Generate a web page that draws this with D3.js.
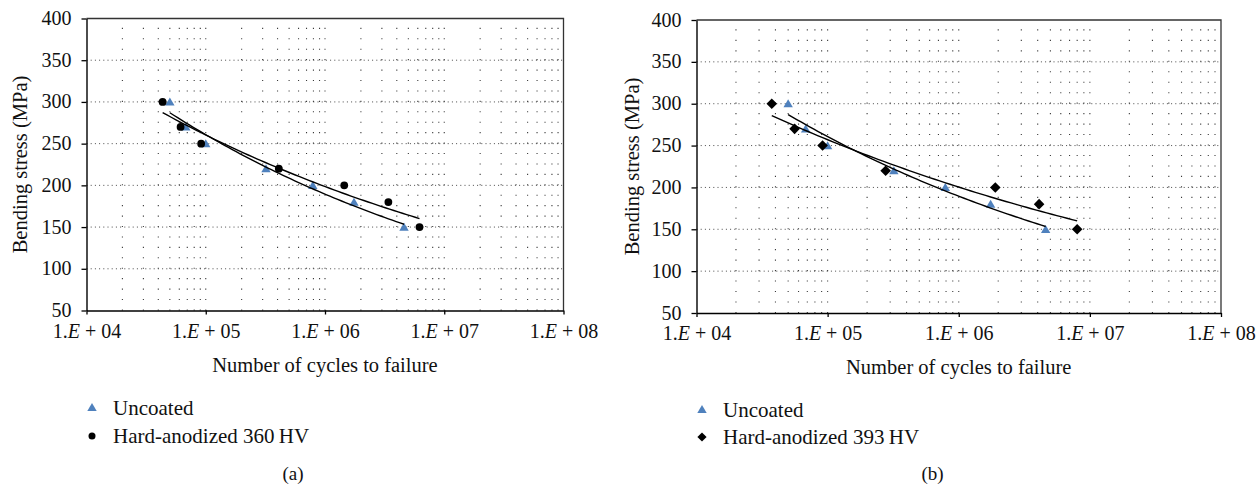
<!DOCTYPE html>
<html>
<head>
<meta charset="utf-8">
<script src="https://cdn.jsdelivr.net/npm/d3@7"></script>
<style>
  html, body { margin: 0; padding: 0; background: #fff; }
  svg { display: block; }
  svg text { font-family: "Liberation Serif", "Times New Roman", serif; }
</style>
</head>
<body>
<svg id="chart" width="1260" height="487"></svg>
<script>
// ---- data ----
const cycleTicks = [1e4, 1e5, 1e6, 1e7, 1e8];
const stressTicks = [50, 100, 150, 200, 250, 300, 350, 400];
const stressLevels = [300, 270, 250, 220, 200, 180, 150];           // MPa
const uncoatedCycles = [5.0e4, 6.8e4, 1.0e5, 3.2e5, 7.9e5, 1.75e6, 4.6e6];
const hv360Cycles = [4.35e4, 6.15e4, 9.15e4, 4.1e5, 1.45e6, 3.4e6, 6.2e6];
const hv393Cycles = [3.75e4, 5.6e4, 9.15e4, 2.77e5, 1.9e6, 4.1e6, 8.0e6];
const seriesNames = ["Uncoated", "Hard-anodized 360\u2009HV", "Hard-anodized 393\u2009HV"];
const panelLetters = ["(a)", "(b)"];
const xTitle = "Number of cycles to failure";
const yTitle = "Bending stress (MPa)";

// ---- drawing ----
const svg = d3.select("#chart");
const FS = 20;
const SERIF = '"Liberation Serif", "Times New Roman", serif';
const BLUE = "#4F81BD";

function markerPath(kind, s) {
  if (kind === "triangle") {
    const h = s * 0.85;
    return `M0,${-h * 0.55}L${s / 2},${h * 0.45}L${-s / 2},${h * 0.45}Z`;
  }
  if (kind === "diamond") {
    return `M0,${-s}L${s},0L0,${s}L${-s},0Z`;
  }
  return null;
}

function addMarker(g, kind, cx, cy, size, color) {
  if (kind === "circle") {
    g.append("circle").attr("cx", cx).attr("cy", cy).attr("r", size).attr("fill", color);
  } else {
    g.append("path").attr("d", markerPath(kind, size))
      .attr("transform", `translate(${cx},${cy})`).attr("fill", color);
  }
}

// least-squares power law  S = a * N^b
function powerFit(ns, ss) {
  const lx = ns.map(Math.log10), ly = ss.map(Math.log10);
  const mx = d3.mean(lx), my = d3.mean(ly);
  const b = d3.sum(lx, (v, i) => (v - mx) * (ly[i] - my)) / d3.sum(lx, v => (v - mx) ** 2);
  const a = my - b * mx;
  return n => Math.pow(10, a + b * Math.log10(n));
}

function drawPanel(cfg) {
  const g = svg.append("g");
  const x = d3.scaleLog().domain([cycleTicks[0], cycleTicks[cycleTicks.length - 1]])
    .range([cfg.left, cfg.right]);
  const y = d3.scaleLinear().domain([stressTicks[0], stressTicks[stressTicks.length - 1]])
    .range([cfg.bottom, cfg.top]);

  // minor vertical grid (2..10 within each decade)
  const minor = [];
  cycleTicks.slice(0, -1).forEach(d => { for (let m = 2; m <= 10; m++) minor.push(m * d); });
  const vGrid = minor.filter(v => v < cycleTicks[cycleTicks.length - 1]);
  const period = y(stressTicks[0]) - y(stressTicks[0] + 12.5);
  g.append("g").selectAll("line").data(vGrid).join("line")
    .attr("x1", d => x(d)).attr("x2", d => x(d))
    .attr("y1", y(stressTicks[0])).attr("y2", y(stressTicks[stressTicks.length - 1]))
    .attr("stroke", "#3a3a3a").attr("stroke-width", 1.1)
    .attr("stroke-dasharray", `1.1 ${period - 1.1}`);

  // horizontal grid at major stress ticks
  g.append("g").selectAll("line")
    .data(stressTicks.slice(1, -1)).join("line")
    .attr("x1", cfg.left).attr("x2", cfg.right)
    .attr("y1", d => y(d)).attr("y2", d => y(d))
    .attr("stroke", "#4a4a4a").attr("stroke-width", 1)
    .attr("stroke-dasharray", "1 3.2");

  // plot frame (top and right)
  g.append("path")
    .attr("d", `M${cfg.left},${cfg.top}H${cfg.right}V${cfg.bottom}`)
    .attr("fill", "none").attr("stroke", "#333").attr("stroke-width", 1.3);

  // markers
  cfg.series.forEach(s => {
    s.cycles.forEach((n, i) => addMarker(g, s.kind, x(n), y(stressLevels[i]), s.size, s.color));
  });

  // power-law trendlines over each series' range
  cfg.series.forEach(s => {
    const f = powerFit(s.cycles, stressLevels);
    const lo = Math.log10(d3.min(s.cycles)), hi = Math.log10(d3.max(s.cycles));
    const pts = d3.range(0, 61).map(k => Math.pow(10, lo + (hi - lo) * k / 60));
    g.append("path")
      .attr("d", d3.line().x(n => x(n)).y(n => y(f(n)))(pts))
      .attr("fill", "none").attr("stroke", "#000").attr("stroke-width", 1.4);
  });

  // y axis
  const ya = g.append("g").attr("transform", `translate(${cfg.left},0)`)
    .call(d3.axisLeft(y).tickValues(stressTicks).tickSize(5).tickSizeOuter(0).tickPadding(10));
  ya.attr("font-family", SERIF).attr("font-size", FS);
  ya.select(".domain").attr("stroke", "#000").attr("stroke-width", 1.4);
  ya.selectAll(".tick line").attr("stroke", "#000").attr("stroke-width", 1.3);
  ya.selectAll(".tick text").attr("fill", "#111").attr("dy", "0.3em")
    .style("font-family", SERIF).style("font-size", FS + "px");

  // x axis
  const xa = g.append("g").attr("transform", `translate(0,${cfg.bottom})`)
    .call(d3.axisBottom(x).tickValues(cycleTicks).tickSize(4).tickSizeOuter(0).tickPadding(9));
  xa.attr("font-family", SERIF).attr("font-size", FS);
  xa.select(".domain").attr("stroke", "#000").attr("stroke-width", 1.4);
  xa.selectAll(".tick line").attr("stroke", "#000").attr("stroke-width", 1.3);
  xa.selectAll(".tick text").attr("fill", "#111")
    .style("font-family", SERIF).style("font-size", FS + "px")
    .each(function (d) {
      const t = d3.select(this).text("");
      const exp = String(Math.round(Math.log10(d))).padStart(2, "0");
      t.append("tspan").text("1.");
      t.append("tspan").attr("font-style", "italic").text("E");
      t.append("tspan").text(" + " + exp);
    });

  // axis titles
  g.append("text").attr("x", (cfg.left + cfg.right) / 2).attr("y", cfg.xTitleY)
    .attr("text-anchor", "middle").attr("font-size", FS + 0.5).attr("fill", "#111").text(xTitle);
  g.append("text")
    .attr("transform", `translate(${cfg.yTitleX},${(cfg.top + cfg.bottom) / 2}) rotate(-90)`)
    .attr("text-anchor", "middle").attr("font-size", FS + 0.5).attr("fill", "#111").text(yTitle);

  // legend
  cfg.series.forEach((s, i) => {
    const ly = cfg.legendY + i * cfg.legendGap;
    addMarker(g, s.kind, cfg.legendX, ly - 7, s.legendSize, s.color);
    g.append("text").attr("x", cfg.legendX + 21).attr("y", ly)
      .attr("font-size", FS + 1).attr("fill", "#111").text(s.name);
  });

  // panel letter
  g.append("text").attr("x", cfg.letterX).attr("y", cfg.letterY)
    .attr("text-anchor", "middle").attr("font-size", FS - 1).attr("fill", "#111").text(cfg.letter);
}

drawPanel({
  left: 86.5, right: 563.5, top: 18.5, bottom: 310.5,
  xTitleY: 372, yTitleX: 27,
  legendX: 92, legendY: 414.5, legendGap: 28.5,
  letterX: 293, letterY: 480, letter: panelLetters[0],
  series: [
    { name: seriesNames[0], cycles: uncoatedCycles, kind: "triangle", size: 9.4, legendSize: 9.4, color: BLUE },
    { name: seriesNames[1], cycles: hv360Cycles, kind: "circle", size: 3.9, legendSize: 3.5, color: "#000" }
  ]
});

drawPanel({
  left: 696.5, right: 1221, top: 20, bottom: 313,
  xTitleY: 374, yTitleX: 639,
  legendX: 702, legendY: 416.5, legendGap: 27.5,
  letterX: 932.5, letterY: 480, letter: panelLetters[1],
  series: [
    { name: seriesNames[0], cycles: uncoatedCycles, kind: "triangle", size: 9.4, legendSize: 9.4, color: BLUE },
    { name: seriesNames[2], cycles: hv393Cycles, kind: "diamond", size: 5.3, legendSize: 4.6, color: "#000" }
  ]
});
</script>
</body>
</html>
